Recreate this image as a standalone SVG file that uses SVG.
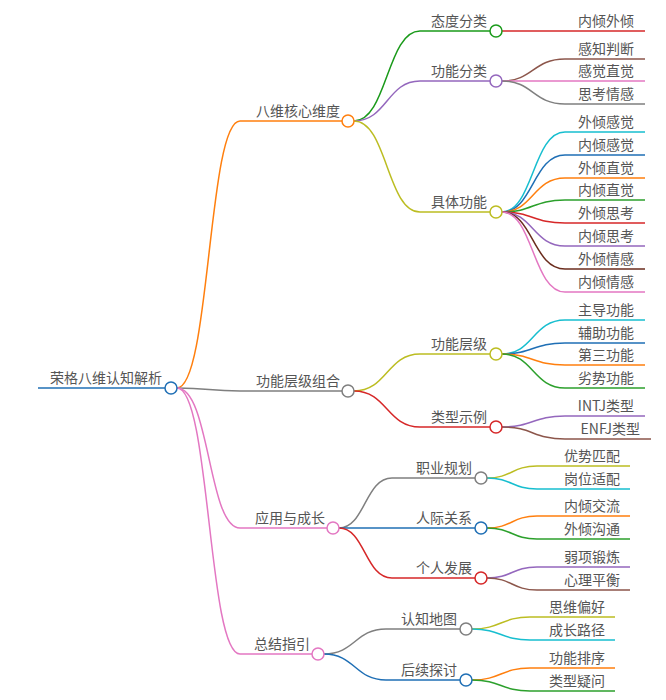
<svg xmlns="http://www.w3.org/2000/svg" width="666" height="700" viewBox="0 0 666 700">
<style>
text{font-family:"Noto Sans CJK SC","Liberation Sans",sans-serif;font-size:14px;fill:#555;text-anchor:end}
path{fill:none;stroke-width:1.5}
circle{fill:#fff;stroke-width:1.5}
</style>
<rect width="666" height="700" fill="#fff"/>
<g id="links">
<path d="M38 388H165" stroke="#1f6fb5"/>
<path d="M177 388C210 388 208 121 240 121H342" stroke="#ff7f0e"/>
<path d="M177 388C210 388 208 391 240 391H342" stroke="#7f7f7f"/>
<path d="M177 388C210 388 208 528 240 528H327" stroke="#e377c2"/>
<path d="M177 388C210 388 208 654 240 654H312" stroke="#e377c2"/>
<path d="M354 121C387 121 387 31 420 31H490" stroke="#1a9a1a"/>
<path d="M354 121C387 121 387 81 420 81H490" stroke="#9467bd"/>
<path d="M354 121C387 121 387 212 420 212H490" stroke="#bcbd22"/>
<path d="M502 31H645" stroke="#d62728"/>
<path d="M502 81C533 81 533 59 565 59H645" stroke="#8c564b"/>
<path d="M502 81C533 81 533 81 565 81H645" stroke="#e377c2"/>
<path d="M502 81C533 81 533 104 565 104H645" stroke="#7f7f7f"/>
<path d="M502 212C533 212 533 132 565 132H645" stroke="#17becf"/>
<path d="M502 212C533 212 533 155 565 155H645" stroke="#1f6fb5"/>
<path d="M502 212C533 212 533 178 565 178H645" stroke="#ff7f0e"/>
<path d="M502 212C533 212 533 200 565 200H645" stroke="#2ca02c"/>
<path d="M502 212C533 212 533 223 565 223H645" stroke="#d62728"/>
<path d="M502 212C533 212 533 246 565 246H645" stroke="#9467bd"/>
<path d="M502 212C533 212 533 269 565 269H645" stroke="#6b2d1e"/>
<path d="M502 212C533 212 533 292 565 292H645" stroke="#e377c2"/>
<path d="M354 391C387 391 387 354 420 354H490" stroke="#bcbd22"/>
<path d="M354 391C387 391 387 427 420 427H490" stroke="#d62728"/>
<path d="M502 354C533 354 533 320 565 320H645" stroke="#17becf"/>
<path d="M502 354C533 354 533 343 565 343H645" stroke="#1f6fb5"/>
<path d="M502 354C533 354 533 365 565 365H645" stroke="#ff7f0e"/>
<path d="M502 354C533 354 533 388 565 388H645" stroke="#2ca02c"/>
<path d="M502 427C533 427 533 416 565 416H645" stroke="#9467bd"/>
<path d="M502 427C533 427 533 439 565 439H651" stroke="#8c564b"/>
<path d="M339 528C365 528 365 478 392 478H475" stroke="#7f7f7f"/>
<path d="M339 528C365 528 365 528 392 528H475" stroke="#1f6fb5"/>
<path d="M339 528C365 528 365 578 392 578H475" stroke="#d62728"/>
<path d="M487 478C512 478 512 466 537 466H630" stroke="#bcbd22"/>
<path d="M487 478C512 478 512 489 537 489H630" stroke="#17becf"/>
<path d="M487 528C512 528 512 516 537 516H630" stroke="#ff7f0e"/>
<path d="M487 528C512 528 512 539 537 539H630" stroke="#2ca02c"/>
<path d="M487 578C512 578 512 567 537 567H630" stroke="#9467bd"/>
<path d="M487 578C512 578 512 590 537 590H630" stroke="#8c564b"/>
<path d="M324 654C355 654 355 629 386 629H460" stroke="#7f7f7f"/>
<path d="M324 654C355 654 355 680 386 680H460" stroke="#1f6fb5"/>
<path d="M472 629C501 629 501 617 530 617H615" stroke="#bcbd22"/>
<path d="M472 629C501 629 501 640 530 640H615" stroke="#17becf"/>
<path d="M472 680C501 680 501 668 530 668H615" stroke="#ff7f0e"/>
<path d="M472 680C501 680 501 691 530 691H615" stroke="#2ca02c"/>
</g>
<g id="root"><text x="162" y="383">荣格八维认知解析</text><circle cx="171" cy="388" r="6" stroke="#1f6fb5"/></g>
<g id="n1"><text x="340" y="116">八维核心维度</text><circle cx="348" cy="121" r="6" stroke="#ff7f0e"/></g>
<g id="n2"><text x="340" y="386">功能层级组合</text><circle cx="348" cy="391" r="6" stroke="#7f7f7f"/></g>
<g id="n3"><text x="325" y="523">应用与成长</text><circle cx="333" cy="528" r="6" stroke="#e377c2"/></g>
<g id="n4"><text x="310" y="649">总结指引</text><circle cx="318" cy="654" r="6" stroke="#e377c2"/></g>
<g id="n11"><text x="487" y="26">态度分类</text><circle cx="496" cy="31" r="6" stroke="#1a9a1a"/></g>
<g id="n12"><text x="487" y="76">功能分类</text><circle cx="496" cy="81" r="6" stroke="#9467bd"/></g>
<g id="n13"><text x="487" y="207">具体功能</text><circle cx="496" cy="212" r="6" stroke="#bcbd22"/></g>
<g id="n21"><text x="487" y="349">功能层级</text><circle cx="496" cy="354" r="6" stroke="#bcbd22"/></g>
<g id="n22"><text x="487" y="422">类型示例</text><circle cx="496" cy="427" r="6" stroke="#d62728"/></g>
<g id="n31"><text x="472" y="473">职业规划</text><circle cx="481" cy="478" r="6" stroke="#7f7f7f"/></g>
<g id="n32"><text x="472" y="523">人际关系</text><circle cx="481" cy="528" r="6" stroke="#1f6fb5"/></g>
<g id="n33"><text x="472" y="573">个人发展</text><circle cx="481" cy="578" r="6" stroke="#d62728"/></g>
<g id="n41"><text x="457" y="624">认知地图</text><circle cx="466" cy="629" r="6" stroke="#7f7f7f"/></g>
<g id="n42"><text x="457" y="675">后续探讨</text><circle cx="466" cy="680" r="6" stroke="#1f6fb5"/></g>
<g id="leaves">
<text x="634" y="26">内倾外倾</text>
<text x="634" y="54">感知判断</text>
<text x="634" y="76">感觉直觉</text>
<text x="634" y="99">思考情感</text>
<text x="634" y="127">外倾感觉</text>
<text x="634" y="150">内倾感觉</text>
<text x="634" y="173">外倾直觉</text>
<text x="634" y="195">内倾直觉</text>
<text x="634" y="218">外倾思考</text>
<text x="634" y="241">内倾思考</text>
<text x="634" y="264">外倾情感</text>
<text x="634" y="287">内倾情感</text>
<text x="634" y="315">主导功能</text>
<text x="634" y="338">辅助功能</text>
<text x="634" y="360">第三功能</text>
<text x="634" y="383">劣势功能</text>
<text x="634" y="411">INTJ类型</text>
<text x="640" y="434">ENFJ类型</text>
<text x="620" y="461">优势匹配</text>
<text x="620" y="484">岗位适配</text>
<text x="620" y="511">内倾交流</text>
<text x="620" y="534">外倾沟通</text>
<text x="620" y="562">弱项锻炼</text>
<text x="620" y="585">心理平衡</text>
<text x="605" y="612">思维偏好</text>
<text x="605" y="635">成长路径</text>
<text x="605" y="663">功能排序</text>
<text x="605" y="686">类型疑问</text>
</g>
</svg>
